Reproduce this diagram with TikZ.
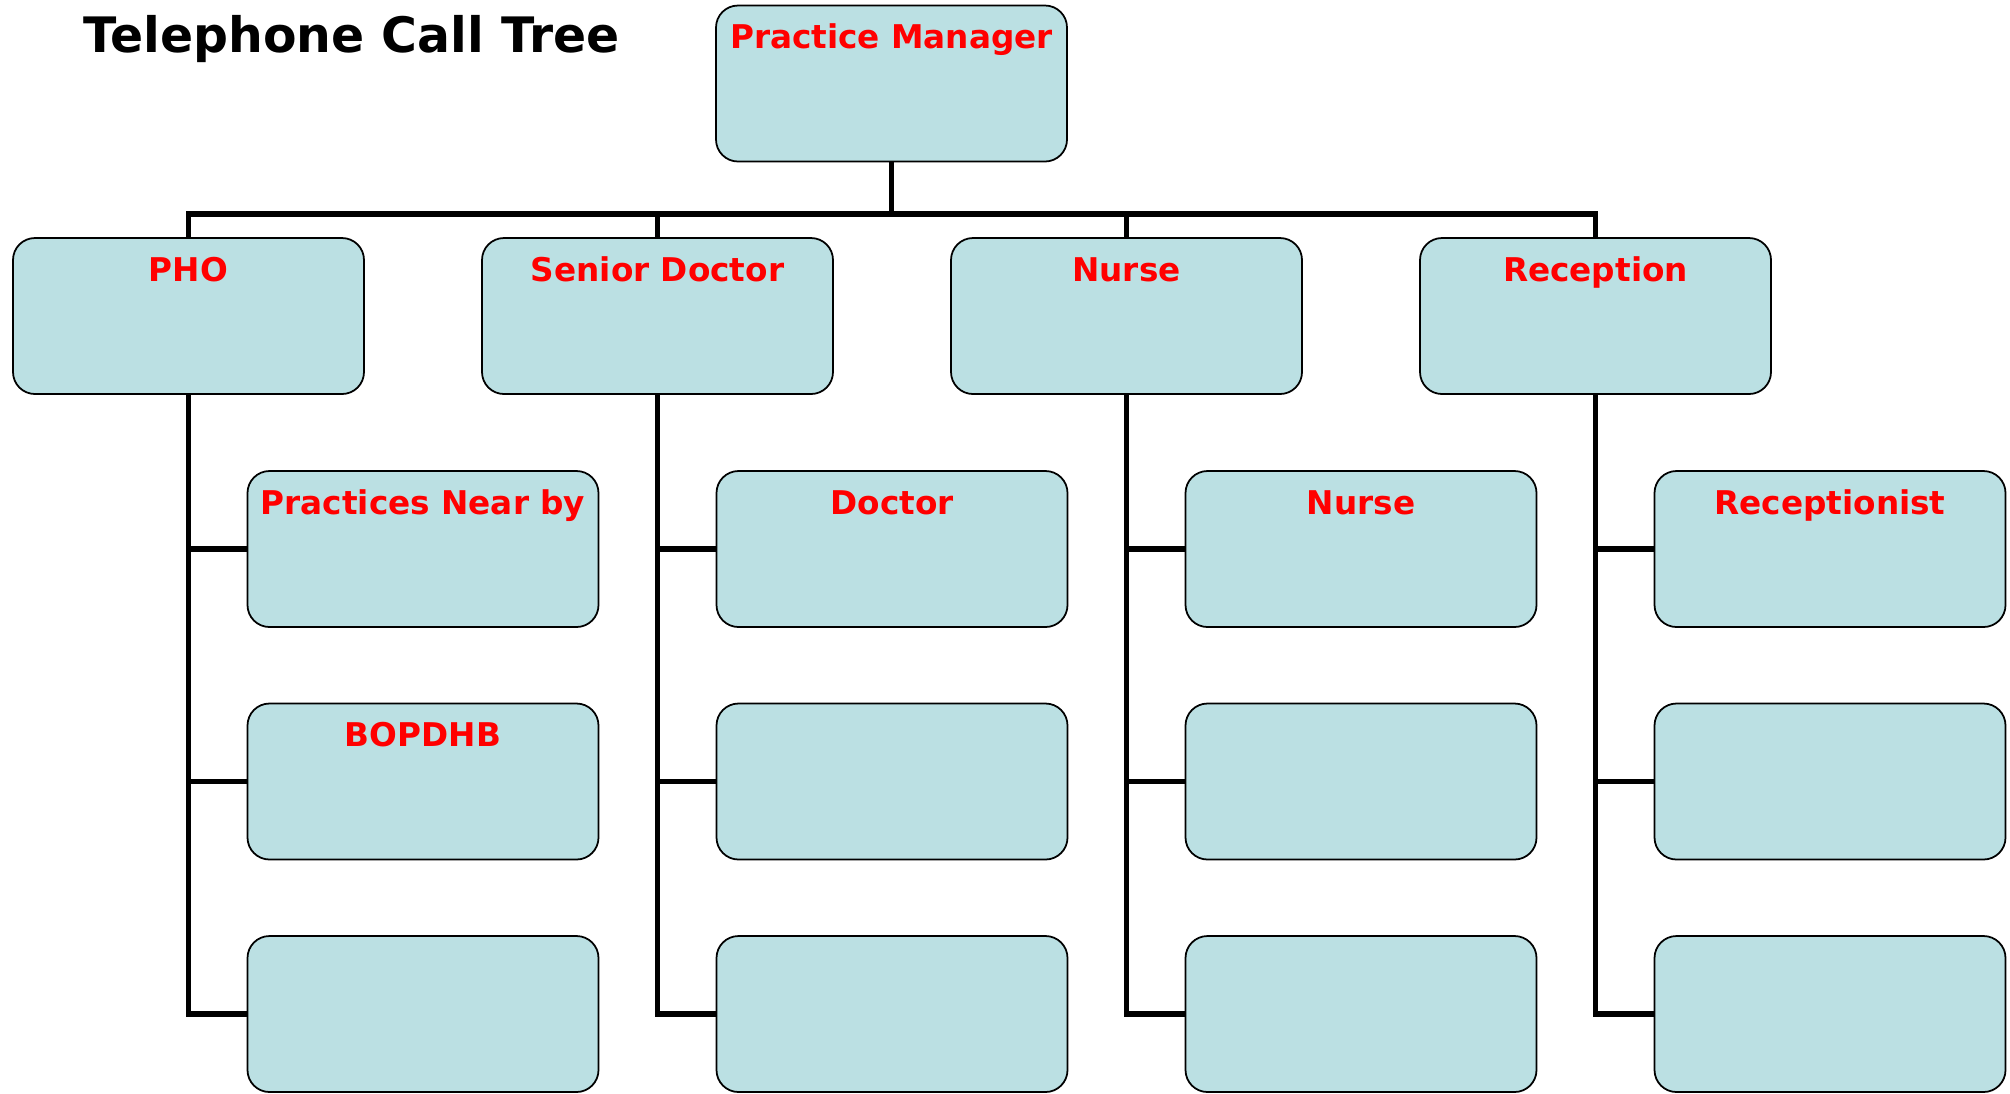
\documentclass[tikz,border=0pt]{standalone}
\usepackage{fontspec}
\setmainfont{DejaVu Sans}
\usetikzlibrary{positioning}
\definecolor{boxfill}{RGB}{187,224,227}
\definecolor{labelred}{RGB}{255,0,0}
\begin{document}
\begin{tikzpicture}
    \tikzset{
        box/.style={draw=black, line width=0.5pt, fill=boxfill, rounded corners=0.22cm,
            minimum width=3.51cm, inner sep=0pt, outer sep=0pt, text height=0.43cm, text depth=1.13cm,
            text=labelred, font=\bfseries\fontsize{9.3}{11}\selectfont},
        conn/.style={line width=1.5pt, draw=black}
    }
    \useasboundingbox (0,0) rectangle (20.10,-10.93);
    \node[anchor=base west, inner sep=0pt, font=\bfseries\fontsize{13.9}{16}\selectfont] (title) at (0.83,-0.52) {Telephone Call Tree};

    \node[box] (pm) at (8.915,-0.835) {Practice Manager};
    \node[box] (pho) at (1.885,-3.16) {PHO};
    \node[box, right=1.18cm of pho] (senior) {Senior Doctor};
    \node[box, right=1.18cm of senior] (nurse) {Nurse};
    \node[box, right=1.18cm of nurse] (reception) {Reception};

    \foreach \col/\first/\second in {pho/Practices Near by/BOPDHB, senior/Doctor/, nurse/Nurse/, reception/Receptionist/}{
        \node[box] (\col1) at ([xshift=2.345cm, yshift=-2.33cm]\col) {\first};
        \node[box, below=0.765cm of \col1] (\col2) {\second};
        \node[box, below=0.765cm of \col2] (\col3) {};
        \draw[conn] (\col.south) |- (\col3.west);
        \draw[conn] (\col.south |- \col1.west) -- (\col1.west);
        \draw[conn] (\col.south |- \col2.west) -- (\col2.west);
    }

    \coordinate (bus) at (0,-2.14);
    \draw[conn] (pm.south) -- (pm.south |- bus);
    \draw[conn] (pho.north) |- (bus -| reception.north) -- (reception.north);
    \draw[conn] (senior.north) -- (senior.north |- bus);
    \draw[conn] (nurse.north) -- (nurse.north |- bus);
\end{tikzpicture}
\end{document}
